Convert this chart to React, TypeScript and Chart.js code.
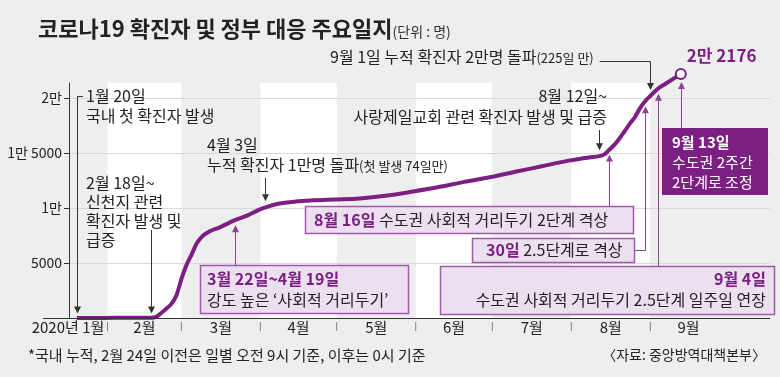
import React, { useEffect, useRef } from 'react';
import { Chart, registerables } from 'chart.js';

Chart.register(...registerables);

const FONT = '"Noto Sans CJK KR", "Noto Sans", sans-serif';
const PURPLE = '#7b1f83';
const BOX_FILL = '#ecdff0';
const BOX_BORDER = '#a05aa8';
const LINK = '#8e4396';
const INK = '#222222';
const BG = '#eeeeee';

// day of year (2020-01-01 = 0) and cumulative confirmed cases
const dayOfYear = [19, 30, 40, 48, 50, 52, 54, 56, 58, 60, 62, 64, 66, 68, 71, 75, 81, 86, 90, 93, 98, 105, 112, 120, 130, 140, 151, 161, 171, 181, 191, 201, 212, 220, 224, 226, 228, 230, 232, 234, 236, 238, 240, 242, 244, 247, 250, 253, 256];
const confirmed = [1, 11, 27, 31, 104, 433, 833, 1261, 2022, 3526, 4812, 5766, 6767, 7382, 7869, 8236, 8897, 9332, 9786, 10062, 10384, 10591, 10694, 10774, 10874, 11110, 11503, 11902, 12373, 12800, 13293, 13771, 14305, 14598, 14714, 14873, 15318, 15761, 16346, 17002, 17665, 18265, 19077, 19699, 20182, 20842, 21296, 21743, 22176];

const monthStartDays = [0, 31, 60, 91, 121, 152, 182, 213, 244, 274];
const monthLabels = ['2020년 1월', '2월', '3월', '4월', '5월', '6월', '7월', '8월', '9월'];
const yTickValues = [0, 5000, 10000, 15000, 20000];
const yTickLabels = ['', '5000', '1만', '1만 5000', '2만'];
const yAxisTop = 21400;
const endLabel = '2만 2176';

const EV = { jan20: 19, feb18: 48, mar22: 81, apr3: 93, aug12: 224, aug16: 228, aug30: 242, sep1: 244, sep4: 247, sep13: 256 };

function valueAt(d: number): number {
  for (let i = 0; i < dayOfYear.length; i++) {
    if (dayOfYear[i] === d) return confirmed[i];
    if (dayOfYear[i] > d && i > 0) {
      const t = (d - dayOfYear[i - 1]) / (dayOfYear[i] - dayOfYear[i - 1]);
      return confirmed[i - 1] + t * (confirmed[i] - confirmed[i - 1]);
    }
  }
  return confirmed[confirmed.length - 1];
}

type Run = [string, number, number, string];

function write(ctx: CanvasRenderingContext2D, x: number, cy: number, runs: Run[], align: 'left' | 'right' = 'left') {
  const base = cy + runs[0][1] * 0.37;
  let total = 0;
  for (const r of runs) {
    ctx.font = `${r[2]} ${r[1]}px ${FONT}`;
    total += ctx.measureText(r[0]).width;
  }
  let cx = align === 'right' ? x - total : x;
  ctx.textAlign = 'left';
  ctx.textBaseline = 'alphabetic';
  for (const r of runs) {
    ctx.font = `${r[2]} ${r[1]}px ${FONT}`;
    ctx.fillStyle = r[3];
    ctx.fillText(r[0], cx, base);
    cx += ctx.measureText(r[0]).width;
  }
  return cx;
}

function path(ctx: CanvasRenderingContext2D, pts: number[][], color: string, w = 1) {
  ctx.strokeStyle = color;
  ctx.lineWidth = w;
  ctx.beginPath();
  pts.forEach(([x, y], i) => (i ? ctx.lineTo(x, y) : ctx.moveTo(x, y)));
  ctx.stroke();
}

function head(ctx: CanvasRenderingContext2D, x: number, tipY: number, dir: number, color: string) {
  ctx.fillStyle = color;
  ctx.beginPath();
  ctx.moveTo(x, tipY);
  ctx.lineTo(x - 3.5, tipY - 7 * dir);
  ctx.lineTo(x + 3.5, tipY - 7 * dir);
  ctx.closePath();
  ctx.fill();
}

function box(ctx: CanvasRenderingContext2D, x: number, y: number, w: number, h: number, fill: string, stroke: string) {
  ctx.fillStyle = fill;
  ctx.fillRect(x, y, w, h);
  ctx.strokeStyle = stroke;
  ctx.lineWidth = 1.5;
  ctx.strokeRect(x, y, w, h);
}

const bgPlugin = {
  id: 'bgBands',
  beforeDraw(chart: any) {
    const { ctx, chartArea: a } = chart;
    const xs = chart.scales.x;
    const ys = chart.scales.y;
    const top = ys.getPixelForValue(yAxisTop);
    ctx.save();
    ctx.fillStyle = BG;
    ctx.fillRect(0, 0, chart.width, chart.height);
    ctx.fillStyle = '#ffffff';
    for (let m = 1; m < 9; m += 2) {
      const x0 = xs.getPixelForValue(monthStartDays[m]);
      const x1 = xs.getPixelForValue(monthStartDays[m + 1]);
      ctx.fillRect(x0, top, x1 - x0, a.bottom - top);
    }
    write(ctx, 38, 29, [['코로나19 확진자 및 정부 대응 주요일지', 22, 700, INK], ['(단위 : 명)', 14, 400, '#333']]);
    write(ctx, 28, 355, [['*국내 누적, 2월 24일 이전은 일별 오전 9시 기준, 이후는 0시 기준', 15, 400, INK]]);
    write(ctx, 766, 355, [['〈자료: 중앙방역대책본부〉', 14, 400, INK]], 'right');
    ctx.restore();
  },
};

const notesPlugin = {
  id: 'notes',
  afterDraw(chart: any) {
    const { ctx, chartArea: a } = chart;
    const xs = chart.scales.x;
    const ys = chart.scales.y;
    const px = (d: number) => Math.round(xs.getPixelForValue(d)) + 0.5;
    const py = (d: number) => ys.getPixelForValue(valueAt(d));
    const DARK = '#333';
    ctx.save();

    const y0 = Math.round(ys.getPixelForValue(0)) + 0.5;
    path(ctx, [[43, y0], [a.right, y0]], DARK);
    const yl = Math.round(a.left) + 0.5;
    path(ctx, [[yl, ys.getPixelForValue(yAxisTop)], [yl, y0]], DARK);

    // 9월 1일
    const e1 = write(ctx, 330, 57, [['9월 1일 누적 확진자 2만명 돌파', 16, 400, INK], ['(225일 만)', 13, 400, INK]]);
    const xs1 = px(EV.sep1);
    const tip1 = py(EV.sep1) - 6;
    path(ctx, [[e1 + 6, 61.5], [xs1, 61.5], [xs1, tip1 - 5]], DARK);
    head(ctx, xs1, tip1, 1, DARK);

    // end label
    const ex = xs.getPixelForValue(EV.sep13);
    write(ctx, ex + 6, 56, [[endLabel, 17, 700, PURPLE]]);

    // 1월 20일
    write(ctx, 86, 96, [['1월 20일', 16, 400, INK]]);
    write(ctx, 86, 116, [['국내 첫 확진자 발생', 16, 400, INK]]);
    const xj = px(EV.jan20);
    path(ctx, [[83, 96.5], [xj, 96.5], [xj, y0 - 10]], DARK);
    head(ctx, xj, y0 - 5, 1, DARK);

    // 2월 18일
    write(ctx, 86, 183, [['2월 18일~', 16, 400, INK]]);
    write(ctx, 86, 202, [['신천지 관련', 16, 400, INK]]);
    write(ctx, 86, 221, [['확진자 발생 및', 16, 400, INK]]);
    write(ctx, 86, 240, [['급증', 16, 400, INK]]);
    const xf = px(EV.feb18);
    path(ctx, [[xf, 230], [xf, y0 - 10]], DARK);
    head(ctx, xf, y0 - 5, 1, DARK);

    // 4월 3일
    write(ctx, 207, 145, [['4월 3일', 16, 400, INK]]);
    write(ctx, 207, 165, [['누적 확진자 1만명 돌파', 16, 400, INK], ['(첫 발생 74일만)', 13, 400, INK]]);
    const xa = px(EV.apr3);
    const ta = py(EV.apr3) - 6;
    path(ctx, [[xa, 178], [xa, ta - 5]], DARK);
    head(ctx, xa, ta, 1, DARK);

    // 8월 12일
    write(ctx, 607, 96, [['8월 12일~', 16, 400, INK]], 'right');
    write(ctx, 607, 117, [['사랑제일교회 관련 확진자 발생 및 급증', 16, 400, INK]], 'right');
    const xg = px(EV.aug12);
    const tg = py(EV.aug12) - 6;
    path(ctx, [[xg, 130], [xg, tg - 5]], DARK);
    head(ctx, xg, tg, 1, DARK);

    // box A: 3월 22일~4월 19일
    const xm = px(EV.mar22);
    const tm = py(EV.mar22) + 5;
    path(ctx, [[xm, 265], [xm, tm + 5]], LINK);
    head(ctx, xm, tm, -1, LINK);
    box(ctx, 200.5, 265.5, 208, 48, BOX_FILL, BOX_BORDER);
    write(ctx, 207, 279, [['3월 22일~4월 19일', 16, 700, PURPLE]]);
    write(ctx, 207, 300, [['강도 높은 ‘사회적 거리두기’', 16, 400, INK]]);

    // box C: 8월 16일
    const x16 = px(EV.aug16);
    const t16 = py(EV.aug16) + 5;
    path(ctx, [[x16, 206], [x16, t16 + 5]], LINK);
    head(ctx, x16, t16, -1, LINK);
    box(ctx, 305.5, 206.5, 328, 27, BOX_FILL, BOX_BORDER);
    write(ctx, 314, 220, [['8월 16일', 16, 700, PURPLE], [' 수도권 사회적 거리두기 2단계 격상', 16, 400, INK]]);

    // box D: 30일
    const x30 = px(EV.aug30);
    const t30 = py(EV.aug30) + 5;
    path(ctx, [[634, 250.5], [x30, 250.5], [x30, t30 + 5]], LINK);
    head(ctx, x30, t30, -1, LINK);
    box(ctx, 472.5, 238.5, 162, 24, BOX_FILL, BOX_BORDER);
    write(ctx, 486, 250, [['30일', 16, 700, PURPLE], [' 2.5단계로 격상', 16, 400, INK]]);

    // box B: 9월 4일
    const x4 = px(EV.sep4);
    const t4 = py(EV.sep4) + 5;
    path(ctx, [[x4, 266], [x4, t4 + 5]], LINK);
    head(ctx, x4, t4, -1, LINK);
    box(ctx, 440.5, 266.5, 334, 48, BOX_FILL, BOX_BORDER);
    write(ctx, 766, 279, [['9월 4일', 16, 700, PURPLE]], 'right');
    write(ctx, 766, 300, [['수도권 사회적 거리두기 2.5단계 일주일 연장', 16, 400, INK]], 'right');

    // box E: 9월 13일
    const x13 = px(EV.sep13);
    const t13 = py(EV.sep13) + 8;
    path(ctx, [[x13, 128], [x13, t13 + 5]], LINK);
    head(ctx, x13, t13, -1, LINK);
    ctx.fillStyle = PURPLE;
    ctx.fillRect(662, 128, 106, 67);
    write(ctx, 672, 142, [['9월 13일', 15, 700, '#ffffff']]);
    write(ctx, 672, 162, [['수도권 2주간', 15, 400, '#ffffff']]);
    write(ctx, 672, 182, [['2단계로 조정', 15, 400, '#ffffff']]);

    ctx.restore();
  },
};

const monthMid = monthLabels.map((_, i) => (monthStartDays[i] + monthStartDays[i + 1]) / 2);
const separators = monthStartDays.slice(1, 9);

export default function App() {
  const ref = useRef<HTMLCanvasElement>(null);
  useEffect(() => {
    const last = dayOfYear.length - 1;
    const chart = new Chart(ref.current as HTMLCanvasElement, {
      type: 'line',
      data: {
        datasets: [
          {
            data: dayOfYear.map((d, i) => ({ x: d, y: confirmed[i] })),
            borderColor: PURPLE,
            borderWidth: 4,
            cubicInterpolationMode: 'monotone',
            pointRadius: (c: any) => (c.dataIndex === last ? 5 : 0),
            pointBackgroundColor: '#ffffff',
            pointBorderColor: PURPLE,
            pointBorderWidth: 2,
            clip: false as any,
            fill: false,
          } as any,
        ],
      },
      options: {
        animation: false,
        responsive: false,
        maintainAspectRatio: false,
        devicePixelRatio: 1,
        events: [],
        layout: { padding: { top: 65, right: 10, bottom: 38, left: 0 } },
        plugins: { legend: { display: false }, title: { display: false }, tooltip: { enabled: false } },
        scales: {
          x: {
            type: 'linear',
            min: 15.9,
            max: 291,
            grid: { display: false, drawTicks: false },
            border: { display: false },
            afterBuildTicks: (s: any) => {
              const vals = [...monthMid, ...separators].sort((p, q) => p - q);
              s.ticks = vals.map((v) => ({ value: v }));
            },
            afterFit: (s: any) => {
              s.height = 21;
            },
            ticks: {
              autoSkip: false,
              maxRotation: 0,
              padding: 0,
              callback: (v: any) => {
                const mi = monthMid.indexOf(v);
                if (mi >= 0) return monthLabels[mi];
                return '|';
              },
              font: (c: any) =>
                c.tick && separators.includes(c.tick.value)
                  ? { family: 'DejaVu Sans', size: 9, lineHeight: 2 }
                  : { family: FONT, size: 15, lineHeight: 1.2 },
              color: (c: any) => (c.tick && separators.includes(c.tick.value) ? '#666' : INK),
            },
          } as any,
          y: {
            type: 'linear',
            position: 'left',
            min: 0,
            max: 23000,
            afterBuildTicks: (s: any) => {
              s.ticks = yTickValues.map((v) => ({ value: v }));
            },
            afterFit: (s: any) => {
              s.width = 69;
            },
            ticks: {
              autoSkip: false,
              padding: 2,
              color: INK,
              font: { family: FONT, size: 14 },
              callback: (v: any) => yTickLabels[yTickValues.indexOf(v)],
            },
            grid: { color: '#d9d9d9', lineWidth: 1, tickColor: '#333', tickLength: 5, drawTicks: true },
            border: { display: false },
          } as any,
        },
      },
      plugins: [bgPlugin, notesPlugin],
    } as any);
    return () => chart.destroy();
  }, []);
  return (
    <div style={{ position: 'fixed', left: 0, top: 0, width: 780, height: 377, background: BG }}>
      <canvas ref={ref} width={780} height={377} style={{ display: 'block', width: 780, height: 377 }} />
    </div>
  );
}
